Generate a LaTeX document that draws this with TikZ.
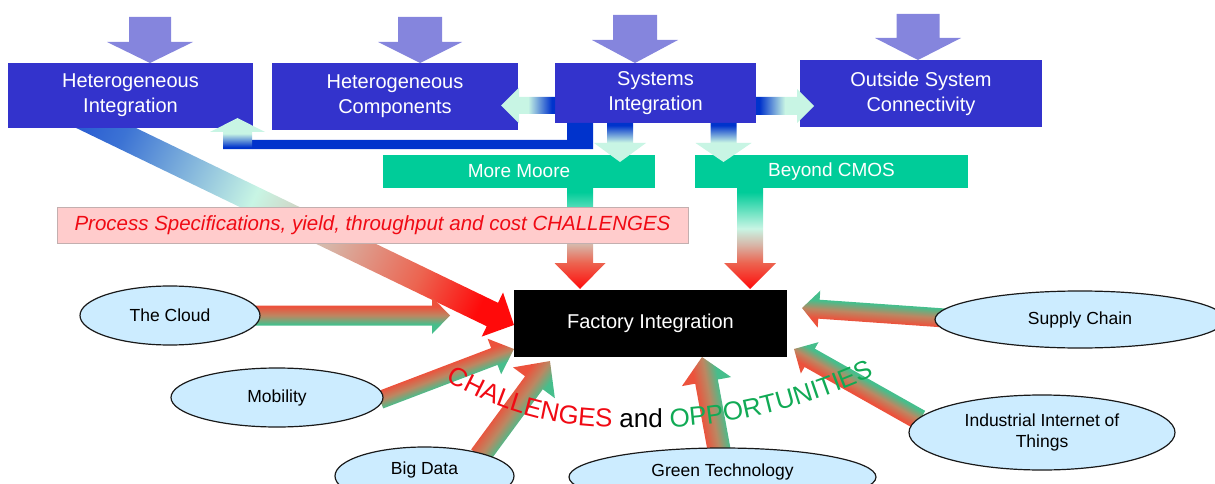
\documentclass[tikz,border=0pt]{standalone}
\usepackage{fontspec}
\setmainfont{Liberation Sans}
\usetikzlibrary{calc,decorations.text,shapes.geometric}

\definecolor{boxblue}{RGB}{51,51,204}
\definecolor{arrowpurple}{RGB}{133,133,221}
\definecolor{barblue}{RGB}{0,51,204}
\definecolor{minty}{RGB}{200,245,228}
\definecolor{boxgreen}{RGB}{0,204,153}
\definecolor{pinkfill}{RGB}{255,204,204}
\definecolor{pinkdraw}{RGB}{195,175,175}
\definecolor{ellfill}{RGB}{204,236,255}
\definecolor{crossred}{RGB}{236,82,60}
\definecolor{crossmid}{RGB}{188,135,98}
\definecolor{crossgreen}{RGB}{70,190,140}
\definecolor{oppgreen}{RGB}{17,170,85}
\definecolor{chred}{RGB}{240,10,20}
\definecolor{tailblue}{RGB}{40,90,210}
\definecolor{tailblueb}{RGB}{60,115,212}
\definecolor{pinkgray}{RGB}{215,182,168}
\definecolor{salmon}{RGB}{236,100,80}
\definecolor{pured}{RGB}{255,10,10}

\pgfdeclarehorizontalshading{hiShade}{100bp}{color(0bp)=(tailblue); color(25bp)=(tailblue); color(30bp)=(tailblueb); color(45bp)=(minty); color(54bp)=(pinkgray); color(64bp)=(salmon); color(71bp)=(pured); color(100bp)=(pured)}
\pgfdeclarehorizontalshading{gmShade}{100bp}{color(0bp)=(boxgreen); color(27bp)=(boxgreen); color(45bp)=(minty); color(53bp)=(pinkgray); color(62bp)=(salmon); color(75bp)=(pured); color(100bp)=(pured)}
\pgfdeclarehorizontalshading{bmShade}{100bp}{color(0bp)=(barblue); color(28bp)=(barblue); color(50bp)=(minty); color(100bp)=(minty)}
\pgfdeclareverticalshading{crossShade}{100bp}{color(0bp)=(crossgreen); color(38bp)=(crossgreen); color(50bp)=(crossmid); color(62bp)=(crossred); color(100bp)=(crossred)}

% block arrow: #1 options, #2 start, #3 tip, #4 shaft half width, #5 head half width, #6 head length
\newcommand\barrow[6]{%
  \pgfmathanglebetweenpoints{\pgfpointanchor{#2}{center}}{\pgfpointanchor{#3}{center}}%
  \let\baang\pgfmathresult
  \pgfpointdiff{\pgfpointanchor{#2}{center}}{\pgfpointanchor{#3}{center}}%
  \pgfgetlastxy{\badx}{\bady}%
  \pgfmathveclen{\badx}{\bady}\let\balen\pgfmathresult
  \begin{scope}[transform canvas={shift={(#2)},rotate=\baang}]
    \path[#1] (0,-#4) -- ({\balen-#6},-#4) -- ({\balen-#6},-#5) -- (\balen,0)
      -- ({\balen-#6},#5) -- ({\balen-#6},#4) -- (0,#4) -- cycle;
  \end{scope}}

\newcommand\chfont{\fontsize{26}{30}\selectfont}

\tikzset{
  bluebox/.style={rectangle, fill=boxblue, text=white, inner sep=0pt, align=center,
    font=\fontsize{20}{25}\selectfont},
  greenbox/.style={rectangle, fill=boxgreen, text=white, inner sep=0pt,
    font=\fontsize{19}{23}\selectfont},
  ell/.style={ellipse, draw=black!90, line width=1.2pt, fill=ellfill, inner sep=0pt,
    align=center, font=\fontsize{17.5}{21}\selectfont},
  etext/.style={font=\fontsize{17.5}{21}\selectfont},
  cross/.style={shade, shading=crossShade},
}

\begin{document}
\begin{tikzpicture}[x=1pt,y=-1pt]
\path[use as bounding box] (0,0) rectangle (1215,484);
\clip (0,0) rectangle (1215,484);

% named end points
\coordinate (p1s) at (150,17);  \coordinate (p1t) at (150,63);
\coordinate (p2s) at (420,17);  \coordinate (p2t) at (420,63);
\coordinate (p3s) at (635,15);  \coordinate (p3t) at (635,63);
\coordinate (p4s) at (918,14);  \coordinate (p4t) at (918,60);
\coordinate (hiOut) at (80,115.4);  \coordinate (fiInA) at (514,325);
\coordinate (mmOut) at (580,188);   \coordinate (fiInB) at (580,289);
\coordinate (bcOut) at (750,188);   \coordinate (fiInC) at (750,289);
\coordinate (cloudOut) at (250,315.5); \coordinate (fiInD) at (450,315.5);
\coordinate (mobOut) at (380,400);  \coordinate (fiInE) at (514,349);
\coordinate (bdOut) at (480,456);   \coordinate (fiInF) at (550,361);
\coordinate (gtOut) at (720,455);   \coordinate (fiInG) at (702,357);
\coordinate (scOut) at (945,318);   \coordinate (fiInH) at (802,308);
\coordinate (iiOut) at (920,420);   \coordinate (fiInI) at (794,349);
\coordinate (siW) at (555,105.5);   \coordinate (hcIn) at (501,105.5);
\coordinate (siE) at (756,106);     \coordinate (oscIn) at (814,106);
\coordinate (siS1) at (620,123);    \coordinate (mmIn) at (620,162);
\coordinate (siS2) at (723.5,123);  \coordinate (bcIn) at (723.5,162);
\coordinate (barEnd) at (237.5,149); \coordinate (hiIn) at (237.5,118);

% arrows behind the pink box
\barrow{shade, shading=hiShade}{hiOut}{fiInA}{13}{24.5}{24}
\barrow{shade, shading=gmShade}{mmOut}{fiInB}{13}{25.5}{26}
\barrow{shade, shading=gmShade}{bcOut}{fiInC}{13}{26}{26}

\node[rectangle, fill=pinkfill, draw=pinkdraw, line width=0.8pt, minimum width=631pt,
  minimum height=36pt, inner sep=0pt, text=chred, font=\fontsize{20.5}{24}\selectfont\itshape]
  (pink) at (372.5,225) {Process Specifications, yield, throughput and cost CHALLENGES};

% top arrows
\barrow{fill=arrowpurple}{p1s}{p1t}{21}{43}{21}
\barrow{fill=arrowpurple}{p2s}{p2t}{22}{42}{21}
\barrow{fill=arrowpurple}{p3s}{p3t}{22}{43}{23}
\barrow{fill=arrowpurple}{p4s}{p4t}{21.5}{43}{22}

% boxes
\node[bluebox, minimum width=245pt, minimum height=65pt] (hi) at (130.5,95.5) {Heterogeneous\\Integration};
\node[bluebox, minimum width=246pt, minimum height=67pt] (hc) at (395,96.5) {Heterogeneous\\Components};
\node[bluebox, minimum width=201pt, minimum height=60pt] (si) at (655.5,93) {Systems\\Integration};
\node[bluebox, minimum width=242pt, minimum height=67pt] (osc) at (921,93.5) {Outside System\\Connectivity};
\node[greenbox, minimum width=272pt, minimum height=33pt] (mm) at (519,171.5) {More Moore};
\node[greenbox, minimum width=273pt, minimum height=33pt] (bc) at (831.5,171.5) {Beyond CMOS};
\node[rectangle, fill=black, text=white, inner sep=0pt, minimum width=273pt, minimum height=67pt,
  font=\fontsize{20}{24}\selectfont] (fi) at (650.5,323.5) {Factory Integration};

% connectors out of Systems Integration
\barrow{shade, shading=bmShade}{siW}{hcIn}{8.5}{18}{18}
\barrow{shade, shading=bmShade}{siE}{oscIn}{9}{17}{17}
\barrow{shade, shading=bmShade}{siS1}{mmIn}{13}{26}{19}
\barrow{shade, shading=bmShade}{siS2}{bcIn}{13}{28}{19}
\fill[barblue] (252,140) -- (567,140) -- (567,123) -- (593,123) -- (593,149) -- (252,149) -- cycle;
\barrow{shade, shading=bmShade}{barEnd}{hiIn}{14.5}{27.5}{14}

% arrows from the ellipses
\barrow{cross}{cloudOut}{fiInD}{10}{18.5}{18}
\barrow{cross}{mobOut}{fiInE}{9}{19}{21}
\barrow{cross}{bdOut}{fiInF}{11}{26}{27}
\barrow{cross}{gtOut}{fiInG}{11.5}{25}{25}
\barrow{cross}{scOut}{fiInH}{9.5}{18.5}{17}
\barrow{cross}{iiOut}{fiInI}{10.5}{18}{18}

% ellipses
\node[ell, minimum width=180pt, minimum height=59pt] (cloud) at (170,315.5) {The Cloud};
\node[ell, minimum width=212pt, minimum height=59pt] (mob) at (277,397.5) {Mobility};
\node[ell, minimum width=179pt, minimum height=58pt,
  label={[etext, yshift=6pt]center:Big Data}] (bd) at (424.5,476) {};
\node[ell, minimum width=307pt, minimum height=58pt,
  label={[etext, yshift=5pt]center:Green Technology}] (gt) at (722.5,477) {};
\node[ell, minimum width=290pt, minimum height=57pt] (sc) at (1080,319.5) {Supply Chain};
\node[ell, minimum width=266pt, minimum height=75pt] (iiot) at (1042,432.5) {Industrial Internet of\\Things};

% curved text
\path[decorate, decoration={text along path, text align=left,
  text={|\chfont\color{chred}|CHALLENGES |\chfont\color{black}|and |\chfont\color{oppgreen}|OPPORTUNITIES}}]
  (446,380) .. controls (500,412) and (550,426) .. (612,427) -- (660,427)
  .. controls (735,427) and (815,405) .. (892,368);
\end{tikzpicture}
\end{document}
